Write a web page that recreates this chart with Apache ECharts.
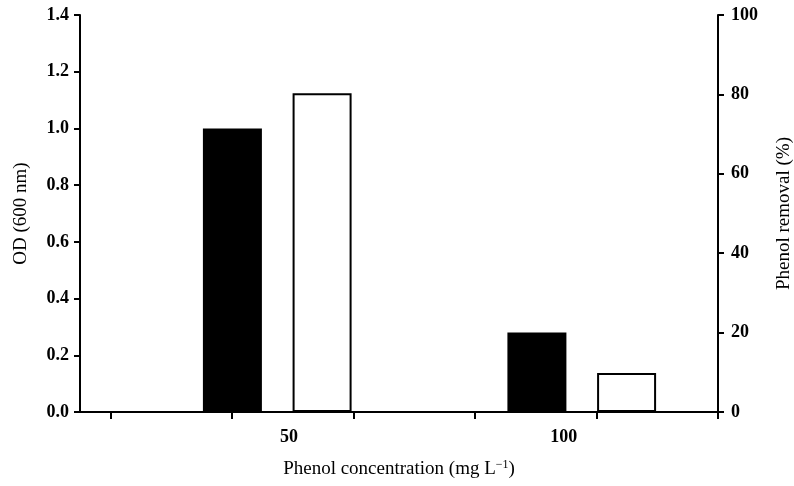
<!DOCTYPE html>
<html>
<head>
<meta charset="utf-8">
<script src="https://cdn.jsdelivr.net/npm/echarts@6/dist/echarts.min.js"></script>
<style>html,body{margin:0;padding:0;background:#fff;}#c{width:794px;height:486px;}</style>
</head>
<body>
<div id="c"></div>
<script>
const categories = ['50', '100'];
const odValues = [1.0, 0.28];
const removalValues = [80.3, 9.8];
const xTickValues = [0.25, 1.25, 2.25, 3.25, 4.25, 5.25];
const xLabelValues = [1.72, 3.98];

const font = 'Liberation Serif';
const axisLine = { show: true, onZero: false, lineStyle: { color: '#000', width: 2 } };
const labelStyle = { fontSize: 18, fontWeight: 'bold', color: '#000', fontFamily: font };
const nameStyle = { fontSize: 19, color: '#000', fontFamily: font };
const chart = echarts.init(document.getElementById('c'));
chart.setOption({
  animation: false,
  textStyle: { fontFamily: font, color: '#000' },
  grid: [
    { left: 80, right: 76, top: 15, bottom: 74, containLabel: false, outerBoundsMode: 'none' },
    { left: 125, right: 60, top: 15, bottom: 74, containLabel: false, outerBoundsMode: 'none' }
  ],
  xAxis: [
    {
      type: 'value', gridIndex: 0, min: 0, max: 5.25,
      axisLine: axisLine,
      axisTick: { show: true, length: 7, lineStyle: { color: '#000', width: 2 }, customValues: xTickValues },
      axisLabel: Object.assign({
        customValues: xLabelValues,
        formatter: function (v) {
          let best = 0;
          xLabelValues.forEach((x, i) => { if (Math.abs(x - v) < Math.abs(xLabelValues[best] - v)) best = i; });
          return categories[best];
        },
        margin: 16
      }, labelStyle),
      splitLine: { show: false },
      name: 'Phenol concentration (mg L{sup|−1})',
      nameLocation: 'middle', nameGap: 47,
      nameTextStyle: Object.assign({ rich: { sup: { fontSize: 12, verticalAlign: 'top', padding: [0, 0, 9, 0], fontFamily: font, color: '#000' } } }, nameStyle)
    },
    { type: 'category', gridIndex: 1, data: categories, show: false }
  ],
  yAxis: [
    {
      type: 'value', gridIndex: 0, position: 'left', min: 0, max: 1.4, interval: 0.2,
      axisLine: axisLine,
      axisTick: { show: true, length: 6, lineStyle: { color: '#000', width: 2 } },
      axisLabel: Object.assign({ formatter: v => v.toFixed(1), margin: 11 }, labelStyle),
      splitLine: { show: false },
      name: 'OD (600 nm)', nameLocation: 'middle', nameGap: 49, nameRotate: 90,
      nameTextStyle: nameStyle
    },
    {
      type: 'value', gridIndex: 0, position: 'right', min: 0, max: 100, interval: 20,
      axisLine: axisLine,
      axisTick: { show: true, length: 6, lineStyle: { color: '#000', width: 2 } },
      axisLabel: Object.assign({ margin: 13 }, labelStyle),
      splitLine: { show: false },
      name: 'Phenol removal (%)', nameLocation: 'middle', nameGap: 57, nameRotate: 90,
      nameTextStyle: nameStyle
    },
    { type: 'value', gridIndex: 1, min: 0, max: 1.4, show: false, splitLine: { show: false } },
    { type: 'value', gridIndex: 1, min: 0, max: 100, show: false, splitLine: { show: false } }
  ],
  series: [
    {
      type: 'bar', xAxisIndex: 1, yAxisIndex: 2, data: odValues,
      barWidth: 59, barGap: '52%',
      itemStyle: { color: '#000' }
    },
    {
      type: 'bar', xAxisIndex: 1, yAxisIndex: 3, data: removalValues,
      barWidth: 59, barGap: '52%',
      itemStyle: { color: '#fff', borderColor: '#000', borderWidth: 2 }
    }
  ]
});
</script>
</body>
</html>
